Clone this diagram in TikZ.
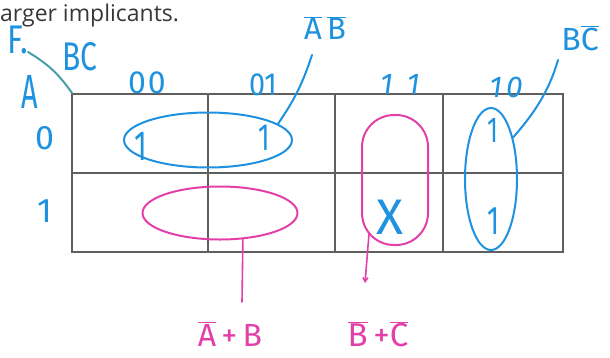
\documentclass[tikz,border=0pt]{standalone}
\usepackage{fontspec}
\setmainfont{Open Sans}
\newfontfamily\hand{Fira Sans}
\usetikzlibrary{shapes.geometric,arrows.meta}
\definecolor{penblue}{RGB}{30,146,222}
\definecolor{penpink}{RGB}{226,64,168}
\definecolor{penteal}{RGB}{70,160,165}
\definecolor{gridgray}{RGB}{95,95,95}
\definecolor{txtgray}{RGB}{55,55,55}
\newcommand\myol[1]{$\overline{\mbox{#1}}$}
\begin{document}
\begin{tikzpicture}[x=1pt,y=-1pt,
  gridline/.style={draw=gridgray,line width=1.3pt},
  bluepen/.style={draw=penblue,line width=2pt,line cap=round,line join=round},
  pinkpen/.style={draw=penpink,line width=2pt,line cap=round,line join=round},
  hw/.style={inner sep=0pt,font=\hand\fontsize{#1}{#1}\selectfont},
  bluetxt/.style={hw=#1,text=penblue},
  pinktxt/.style={hw=#1,text=penpink}]
\useasboundingbox (0,0) rectangle (610,357);
\node[anchor=base west,inner sep=0pt,text=txtgray,font=\fontsize{23}{23}\selectfont] (title) at (0,21) {arger implicants.};
% grid
\draw[gridline] (72,94) rectangle (563,252);
\draw[gridline] (72,173) -- (563,173);
\draw[gridline] (208,94) -- (208,252);
\draw[gridline] (335,94) -- (335,252);
\draw[gridline] (443,94) -- (443,252);
\coordinate (corner) at (72,93);
% header labels
\node[bluetxt=40,xscale=0.8] (lf) at (18,40) {F.};
\node[bluetxt=40,xscale=0.75] (lbc) at (80,57) {BC};
\node[bluetxt=48,xscale=0.6] (la) at (30,92) {A};
\node[bluetxt=32] (c00) at (147,83) {0\hspace{2pt}0};
\node[bluetxt=32,xscale=0.9] (c01) at (263,85) {01};
\node[bluetxt=30,font=\hand\itshape\fontsize{30}{30}\selectfont] (c11) at (400,84) {1\hspace{14pt}1};
\node[bluetxt=30,font=\hand\itshape\fontsize{30}{30}\selectfont] (c10) at (506,87) {1\hspace{4pt}0};
\node[bluetxt=34] (r0) at (45,138) {0};
\node[bluetxt=34] (r1) at (45,211) {1};
\draw[draw=penteal,line width=2pt,line cap=round] (28,52) to[bend left=12] (corner);
% cell entries
\node[bluetxt=42,xscale=0.7] (v00) at (141,146) {1};
\node[bluetxt=38,xscale=0.7] (v01) at (264,138) {1};
\node[bluetxt=36,xscale=0.7] (v02) at (493,130) {1};
\node[bluetxt=40,xscale=0.7] (v12) at (494,221) {1};
\node[bluetxt=50,font=\hand\fontsize{50}{50}\selectfont] (vx) at (390,217) {X};
% groups
\node[ellipse,bluepen,minimum width=168pt,minimum height=55pt] (g1) at (208,140) {};
\node[ellipse,pinkpen,minimum width=155pt,minimum height=53pt] (g2) at (220,213) {};
\node[rectangle,rounded corners=32pt,pinkpen,minimum width=66pt,minimum height=130pt] (g3) at (395,180) {};
\node[ellipse,bluepen,minimum width=52pt,minimum height=142pt] (g4) at (491,179) {};
% term labels
\node[bluetxt=31] (tab) at (325,28) {\myol{A}\,\myol{B}};
\node[bluetxt=32] (tbc) at (580,38) {B\myol{C}};
\node[pinktxt=32] (t1) at (230,334) {\myol{A}\,+\,B};
\node[pinktxt=33] (t2) at (378,334) {\myol{B}\,+\myol{C}};
% connectors
\draw[bluepen] (g1.13) to[bend right=8] (312,55);
\draw[bluepen] (g4.62) .. controls (530,118) and (548,95) .. (558,60);
\coordinate (e1) at (242,302);
\coordinate (e2) at (365,283);
\draw[pinkpen,line width=1.6pt] (g2.-49) -- (e1);
\draw[pinkpen,line width=1.6pt,-{Straight Barb[length=4pt,width=5pt]}] ([xshift=8pt,yshift=12pt]g3.south west) -- (e2);
\end{tikzpicture}
\end{document}
